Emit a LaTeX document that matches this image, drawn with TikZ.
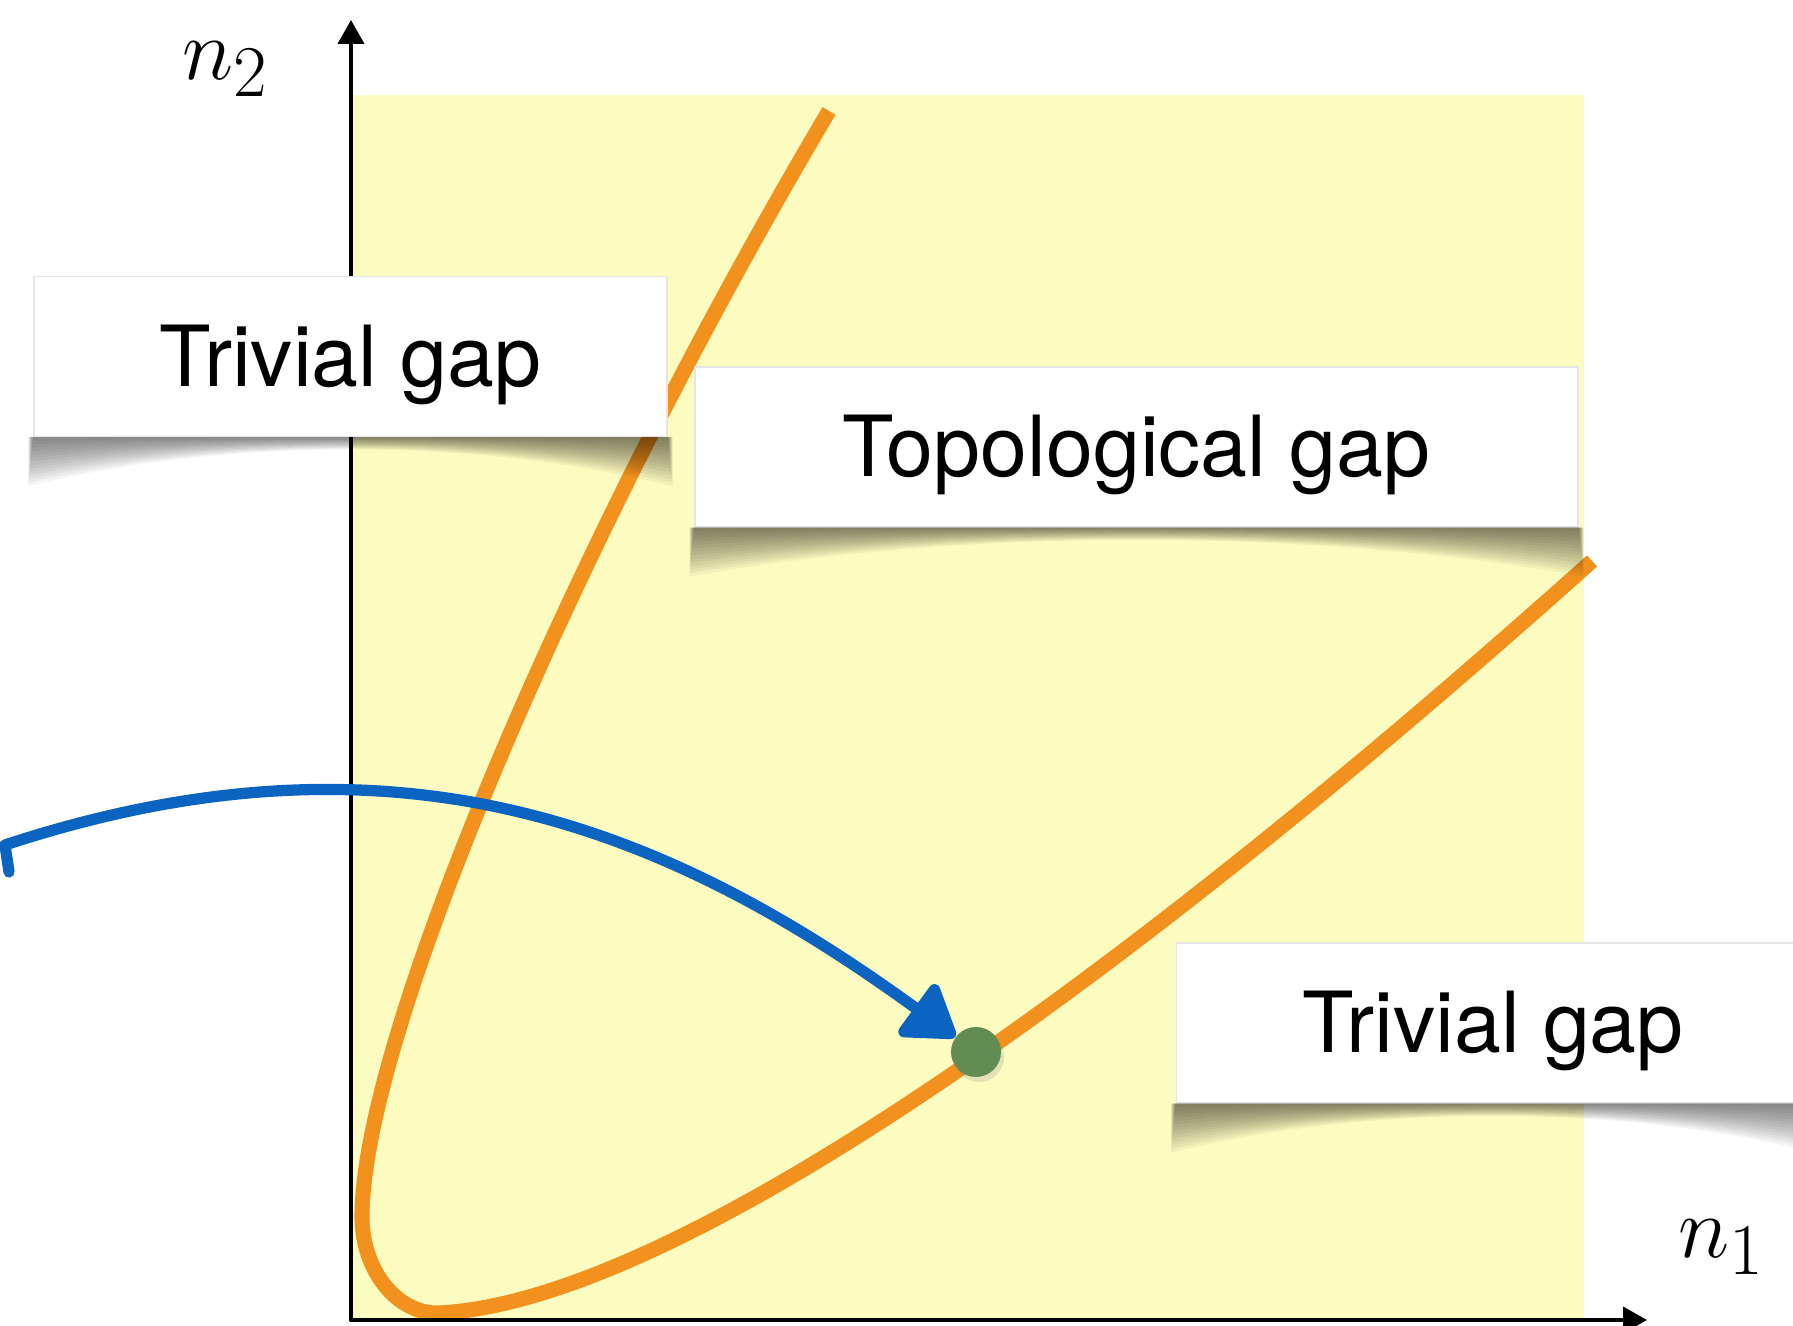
\documentclass[tikz,border=0pt]{standalone}
\usepackage{fontspec}
\newfontfamily\boxfont{TeX Gyre Heros}
\usetikzlibrary{arrows.meta,shadows,calc}
\definecolor{padyellow}{RGB}{252,251,192}
\definecolor{curveorange}{RGB}{242,145,30}
\definecolor{chalkblue}{RGB}{10,100,192}
\definecolor{dotgreen}{RGB}{98,140,82}
\tikzset{
  gapbox/.style={fill=white,draw=black!10,line width=0.4pt,inner sep=0pt,
    minimum height=1.6cm,text height=17pt,text depth=0pt,
    font=\boxfont\fontsize{24}{28}\selectfont},
  axis/.style={line width=1.15pt,-{Triangle[length=2.4mm,width=2.6mm]}},
  curl/.style={fill=black,fill opacity=0.045},
  chalk/.style={draw=chalkblue,line width=3.2pt,-{Triangle[length=5.5mm,width=7mm,round]}},
  spot/.style={circle,fill=dotgreen,minimum size=5mm,inner sep=0pt,
    drop shadow={opacity=0.2,shadow xshift=0.3mm,shadow yshift=-0.5mm}},
  axlabel/.style={anchor=base,inner sep=0pt,font=\fontsize{30}{32}\selectfont}
}
\begin{document}
\begin{tikzpicture}[line cap=round,line join=round]
  \useasboundingbox (0,0) rectangle (17.93,13.26);
  \coordinate (O) at (3.51,0.06);
  \coordinate (xtip) at (16.47,0.06);
  \coordinate (ytip) at (3.51,13.06);
  \fill[padyellow] (O) rectangle (15.84,12.31);
  \draw[curveorange,line width=4.3pt,line cap=butt]
    (8.29,12.15) .. controls (5.74,7.85) and (3.62,2.89) .. (3.62,1.09)
    .. controls (3.62,0.56) and (3.97,0.11) .. (4.40,0.13)
    .. controls (6.80,0.26) and (11.30,3.51) .. (15.92,7.65);
  \draw[axis] (O) -- (xtip);
  \draw[axis] (O) -- (ytip);
  \node[axlabel] (lbly) at (2.26,12.46) {$n_2$};
  \node[axlabel] (lblx) at (17.22,0.68) {$n_1$};
  \node[gapbox,minimum width=6.33cm] (triv1) at (3.505,9.695) {Trivial gap};
  \node[gapbox,minimum width=8.83cm] (topo) at (11.365,8.79) {Topological gap};
  \node[gapbox,minimum width=6.33cm] (triv2) at (14.93,3.03) {Trivial gap};
  \foreach \b in {triv1,topo,triv2}
    \foreach \d [evaluate=\d as \s using 1.2-0.04*\d/0.035] in {0.035,0.07,...,0.5}
      \fill[curl] ([xshift=-\s mm]\b.south west) -- ([xshift=-\s mm,yshift=-\d cm]\b.south west)
        .. controls ($(\b.south west)!0.3!(\b.south east)$) and ($(\b.south west)!0.7!(\b.south east)$)
        .. ([xshift=\s mm,yshift=-\d cm]\b.south east) -- ([xshift=\s mm]\b.south east) -- cycle;
  \coordinate (hook) at (0.09,4.54);
  \coordinate (hookup) at (0.05,4.81);
  \node[spot] (pt) at (9.76,2.74) {};
  \draw[chalk] (hook) -- (hookup) .. controls (4.00,6.11) and (6.72,4.95) .. (pt);
\end{tikzpicture}
\end{document}
